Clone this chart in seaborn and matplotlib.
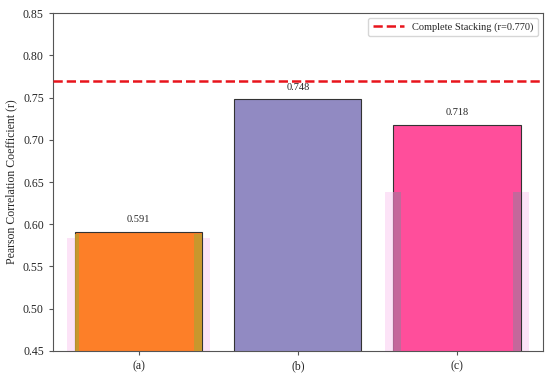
import matplotlib
matplotlib.use("Agg")
import matplotlib.pyplot as plt
import seaborn as sns
import pandas as pd
import numpy as np

# values
labels = ["(a)", "(b)", "(c)"]
pearson_r = [0.591, 0.748, 0.718]
bar_colors = ["#FD7F28", "#918AC2", "#FF4E9B"]
complete_r = 0.770
# faint background layer seen behind (a) and (c)
shadow_r = [0.584, np.nan, 0.638]
shadow_edge_colors = ["#C39A2E", None, "#BE6A9C"]

sns.set_style("ticks")
plt.rcParams["font.family"] = ["Liberation Serif", "DejaVu Serif"]

df = pd.DataFrame({"method": labels, "r": pearson_r})

fig = plt.figure(figsize=(5.5, 3.84), dpi=100)
ax = fig.add_axes([0.096, 0.086, 0.891, 0.880])

# pale wide layer behind
ax.bar(np.arange(len(labels)), shadow_r, width=0.9, color="#FCE3F7",
       linewidth=0, zorder=0)

sns.barplot(data=df, x="method", y="r", hue="method", palette=bar_colors,
            saturation=1, edgecolor="#333333", linewidth=0.8, width=0.8,
            legend=False, ax=ax, zorder=2)

# translucent stripes at bar edges
for i, (h, c) in enumerate(zip(shadow_r, shadow_edge_colors)):
    if c is None:
        continue
    top = pearson_r[i] - 0.002 if i == 0 else h
    wl = 0.025 if i == 0 else 0.05
    wr = 0.055 if i == 0 else 0.045
    ax.bar(i - 0.4 + wl / 2, top - 0.45, bottom=0.45, width=wl, color=c,
           alpha=0.9, linewidth=0, zorder=3)
    ax.bar(i + 0.4 - wr / 2, top - 0.45, bottom=0.45, width=wr, color=c,
           alpha=0.9, linewidth=0, zorder=3)

ax.axhline(complete_r, color="#E8141C", linestyle="--", linewidth=1.8,
           label=f"Complete Stacking (r={complete_r:.3f})", zorder=4)

for i, v in enumerate(pearson_r):
    ax.text(i, v + 0.009, f"{v:.3f}", ha="center", va="bottom", fontsize=7.5)

ax.set_ylim(0.45, 0.85)
ax.set_xlim(-0.54, 2.54)
ax.set_yticks(np.arange(0.45, 0.851, 0.05))
ax.set_xlabel("")
ax.set_ylabel("Pearson Correlation Coefficient (r)", fontsize=8.5)
ax.tick_params(labelsize=8.5, length=3, color="#555555")
for s in ax.spines.values():
    s.set_color("#555555")
    s.set_linewidth(0.8)

ax.legend(loc="upper right", fontsize=7.5, frameon=True, fancybox=True,
          edgecolor="#cccccc", handlelength=3)

fig.savefig("out.png", dpi=100)
